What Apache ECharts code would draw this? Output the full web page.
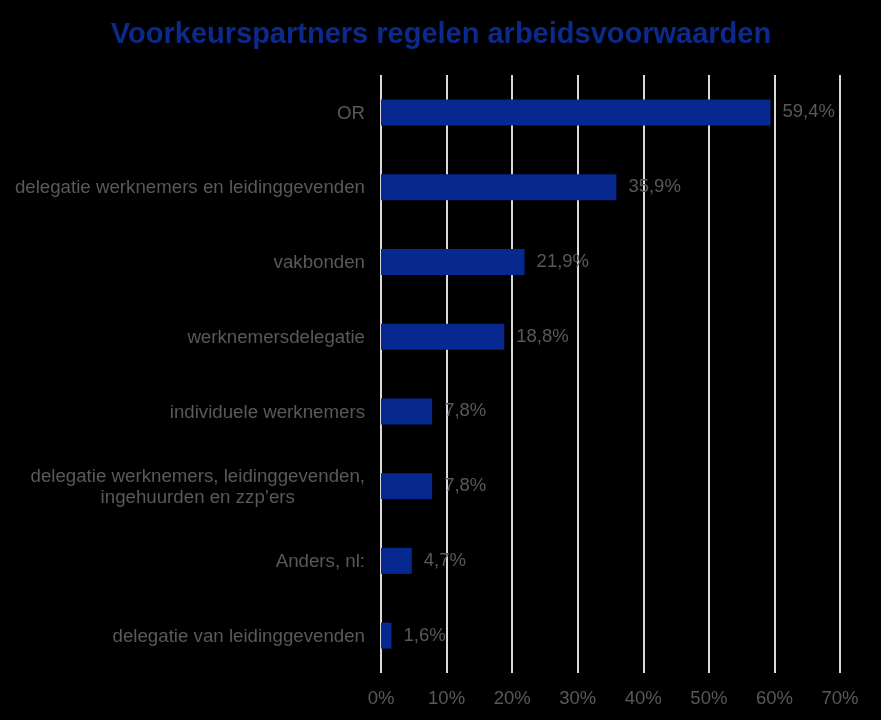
<!DOCTYPE html>
<html><head><meta charset="utf-8">
<script src="https://cdn.jsdelivr.net/npm/echarts@6/dist/echarts.min.js"></script>
<style>html,body{margin:0;padding:0;background:#000;}#c{width:881px;height:720px;}</style>
</head><body><div id="c"></div>
<script>
const categories = ["OR","delegatie werknemers en leidinggevenden","vakbonden","werknemersdelegatie","individuele werknemers","delegatie werknemers, leidinggevenden,\ningehuurden en zzp’ers","Anders, nl:","delegatie van leidinggevenden"];
const values = [59.4,35.9,21.9,18.8,7.8,7.8,4.7,1.6];
const tickLabels = ["0%","10%","20%","30%","40%","50%","60%","70%"];
const chart = echarts.init(document.getElementById('c'));
const fmt = v => v.toFixed(1).replace('.', ',') + '%';
chart.setOption({
  backgroundColor:'#000',
  animation:false,
  title:{text:'Voorkeurspartners regelen arbeidsvoorwaarden',left:436,textAlign:'center',top:15,
    textStyle:{color:'#0c2a8c',fontSize:29,fontWeight:'bold',fontFamily:'Liberation Sans'}},
  grid:{left:381,right:41,top:75,bottom:47},
  xAxis:{type:'value',min:0,max:70,interval:10,
    axisLine:{show:false},axisTick:{show:false},
    splitLine:{lineStyle:{color:'#d9d9d9',width:2}},
    axisLabel:{color:'#595959',fontSize:18.5,fontFamily:'Liberation Sans',margin:16,
      formatter:(v)=>tickLabels[Math.round(v/10)]}},
  yAxis:{type:'category',data:categories,inverse:true,
    axisLine:{show:false},axisTick:{show:false},
    axisLabel:{color:'#595959',fontSize:18.7,fontFamily:'Liberation Sans',margin:16,align:'right',lineHeight:21,
      formatter:(v)=>v.split('\n').map(s=>'{c|'+s+'}').join('\n'),
      rich:{c:{align:'center',color:'#595959',fontSize:18.7,fontFamily:'Liberation Sans',lineHeight:21,padding:[2,0,0,0]}}}},
  series:[{type:'bar',data:values,barWidth:26,itemStyle:{color:'#06288f'},
    label:{show:true,position:'right',distance:12,color:'#595959',fontSize:18.5,fontFamily:'Liberation Sans',
      formatter:p=>fmt(p.value)}}]
});
</script></body></html>
